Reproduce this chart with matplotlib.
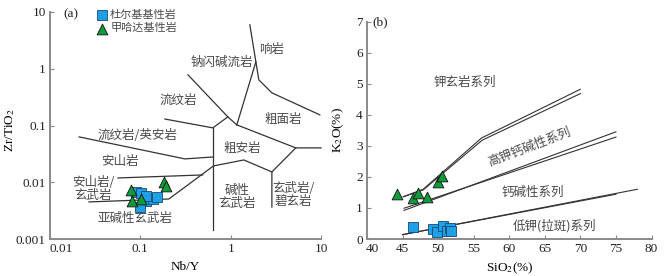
import matplotlib
matplotlib.use("Agg")
import matplotlib.pyplot as plt
from matplotlib.transforms import ScaledTranslation

plt.rcParams['font.family'] = ['Liberation Serif', 'DejaVu Serif']
plt.rcParams['mathtext.fontset'] = 'stix'
CJK = ['Noto Sans CJK SC', 'DejaVu Sans']

# ---------------- data: panel (a) Zr/TiO2 vs Nb/Y ----------------
dur_nby = [0.089, 0.103, 0.117, 0.137, 0.151, 0.099, 0.115]
dur_zr = [0.0068, 0.0064, 0.0047, 0.0050, 0.0054, 0.0036, 0.0057]
jia_nby = [0.078, 0.080, 0.103, 0.184, 0.190]
jia_zr = [0.0073, 0.0046, 0.0051, 0.0100, 0.0086]

# field boundaries (Nb/Y, Zr/TiO2)
bnd_a = [
    ([1.63, 2.05, 2.86, 9.7], [5.95, 0.637, 0.376, 0.154]),
    ([1.90, 1.17], [1.32, 0.1026]),
    ([0.337, 0.93, 1.17], [0.78, 0.142, 0.1026]),
    ([0.187, 0.635, 0.93], [0.13, 0.0908, 0.142]),
    ([0.645, 0.645], [0.0908, 0.00144]),
    ([1.17, 5.26, 10.0], [0.1026, 0.0403, 0.0403]),
    ([5.26, 2.86, 2.86], [0.0403, 0.0152, 0.00366]),
    ([2.86, 1.40, 0.645, 0.207, 0.027], [0.0152, 0.0247, 0.0194, 0.00507, 0.0045]),
    ([0.0565, 0.49], [0.0119, 0.01345]),
    ([0.021, 0.311, 0.645], [0.063, 0.0258, 0.0279]),
]

fields_a = [
    ("响岩", 2.86, 2.15),
    ("钠闪碱流岩", 0.80, 1.32),
    ("流纹岩", 0.26, 0.283),
    ("粗面岩", 3.78, 0.126),
    ("流纹岩/英安岩", 0.0917, 0.068),
    ("安山岩", 0.0594, 0.0228),
    ("粗安岩", 1.33, 0.0386),
    ("安山岩/\n玄武岩", 0.030, 0.0076),
    ("碱性\n玄武岩", 1.17, 0.0055),
    ("玄武岩/\n碧玄岩", 5.0, 0.0060),
    ("亚碱性玄武岩", 0.087, 0.00226),
]
xticks_a = [0.01, 0.1, 1, 10]
xtlab_a = ['0.01', '0.1', '1', '10']
yticks_a = [0.001, 0.01, 0.1, 1, 10]
ytlab_a = ['0.001', '0.01', '0.1', '1', '10']

# ---------------- data: panel (b) K2O vs SiO2 ----------------
dur_si = [46.5, 49.3, 49.8, 50.7, 51.3, 51.6, 51.8]
dur_k = [0.38, 0.31, 0.22, 0.42, 0.27, 0.36, 0.26]
jia_si = [44.2, 46.4, 47.2, 48.5, 50.0, 50.5]
jia_k = [1.44, 1.31, 1.47, 1.35, 1.85, 2.03]

bnd_b = [
    ([45.1, 47.9, 56.1, 70.0], [1.36, 1.60, 3.25, 4.82]),
    ([45.1, 47.9, 56.2, 70.0], [1.36, 1.58, 3.18, 4.68]),
    ([45.2, 75.0], [0.92, 3.45]),
    ([45.2, 75.0], [0.99, 3.28]),
    ([45.0, 75.0], [0.14, 1.44]),
    ([45.0, 78.0], [0.14, 1.60]),
]
series_b = [
    ("钾玄岩系列", 53.8, 5.05, 0),
    ("高钾钙碱性系列", 62.9, 2.95, 21),
    ("钙碱性系列", 63.3, 1.51, 0),
    ("低钾(拉斑)系列", 66.4, 0.42, 0),
]
xticks_b = [40, 45, 50, 55, 60, 65, 70, 75, 80]
yticks_b = [0, 1, 2, 3, 4, 5, 6, 7]

# ---------------- styles ----------------
BLUE = '#1ea0e6'
GREEN = '#109a3c'
LINE = '#333333'
SPINE = '#8a8a8a'
TXT = '#4a4a4a'

W, H = 668, 276
fig = plt.figure(figsize=(W / 100, H / 100), dpi=100)
axA = fig.add_axes([50 / W, 37 / H, 271 / W, 227 / H])
axB = fig.add_axes([367 / W, 37 / H, 284.5 / W, 217.5 / H])

for ax in (axA, axB):
    for s in ('top', 'right'):
        ax.spines[s].set_visible(False)
    for s in ('left', 'bottom'):
        ax.spines[s].set_color(SPINE)
        ax.spines[s].set_linewidth(1.4)
    ax.tick_params(direction='in', length=3, width=0.8, color=SPINE,
                   labelsize=9.5, pad=3, labelcolor='#222222')
    ax.patch.set_alpha(0)

# ---- panel a ----
axA.set_xscale('log')
axA.set_yscale('log')
axA.set_xlim(0.01, 10)
axA.set_ylim(0.001, 10)
axA.set_xticks(xticks_a)
axA.set_xticklabels(xtlab_a)
axA.set_yticks(yticks_a)
axA.set_yticklabels(ytlab_a)
axA.minorticks_off()
axA.get_xticklabels()[0].set_ha('left')

for xs, ys in bnd_a:
    axA.plot(xs, ys, color=LINE, lw=0.9, clip_on=False)
for t, x, y in fields_a:
    axA.text(x, y, t, family=CJK, fontsize=9, color=TXT, ha='center',
             va='center', linespacing=1.0)

axA.scatter(dur_nby, dur_zr, marker='s', s=42, c=BLUE, edgecolors='#1a4a70',
            linewidths=0.6, zorder=3, label='杜尔基基性岩')
axA.scatter(jia_nby, jia_zr, marker='^', s=60, c=GREEN, edgecolors='#111111',
            linewidths=0.6, zorder=4, label='甲哈达基性岩')
leg = axA.legend(loc='upper left', bbox_to_anchor=(0.14, 1.045), frameon=False,
                 prop={'family': CJK, 'size': 8}, handletextpad=0.1,
                 labelspacing=0.35, borderpad=0.2, handlelength=1.2,
                 scatterpoints=1)
for t in leg.get_texts():
    t.set_color(TXT)
axA.text(0.048, 0.99, '(a)', transform=axA.transAxes, fontsize=9.5,
         ha='left', va='center', color='#222222')
axA.set_xlabel('Nb/Y', fontsize=9.5, labelpad=4)
axA.set_ylabel(r'Zr/TiO$_2$', fontsize=9.5)
axA.yaxis.set_label_coords(-0.12, 0.48)

# ---- panel b ----
axB.set_xlim(40, 80)
axB.set_ylim(0, 7)
axB.set_xticks(xticks_b)
axB.set_yticks(yticks_b)
lab0 = axB.get_xticklabels()[0]
lab0.set_transform(lab0.get_transform() + ScaledTranslation(4 / 72, 0, fig.dpi_scale_trans))
for xs, ys in bnd_b:
    axB.plot(xs, ys, color=LINE, lw=0.8)
for t, x, y, r in series_b:
    axB.text(x, y, t, family=CJK, fontsize=9, color=TXT, ha='center',
             va='center', rotation=r, rotation_mode='anchor')
axB.scatter(dur_si, dur_k, marker='s', s=42, c=BLUE, edgecolors='#1a4a70',
            linewidths=0.6, zorder=3)
axB.scatter(jia_si, jia_k, marker='^', s=60, c=GREEN, edgecolors='#111111',
            linewidths=0.6, zorder=4)
axB.text(0.02, 0.995, '(b)', transform=axB.transAxes, fontsize=9.5,
         ha='left', va='center', color='#222222')
axB.set_xlabel(r'SiO$_2$(%)', fontsize=9.5, labelpad=4)
axB.set_ylabel(r'K$_2$O(%)', fontsize=9.5)
axB.yaxis.set_label_coords(-0.075, 0.5)

fig.savefig('out.png', dpi=100)
